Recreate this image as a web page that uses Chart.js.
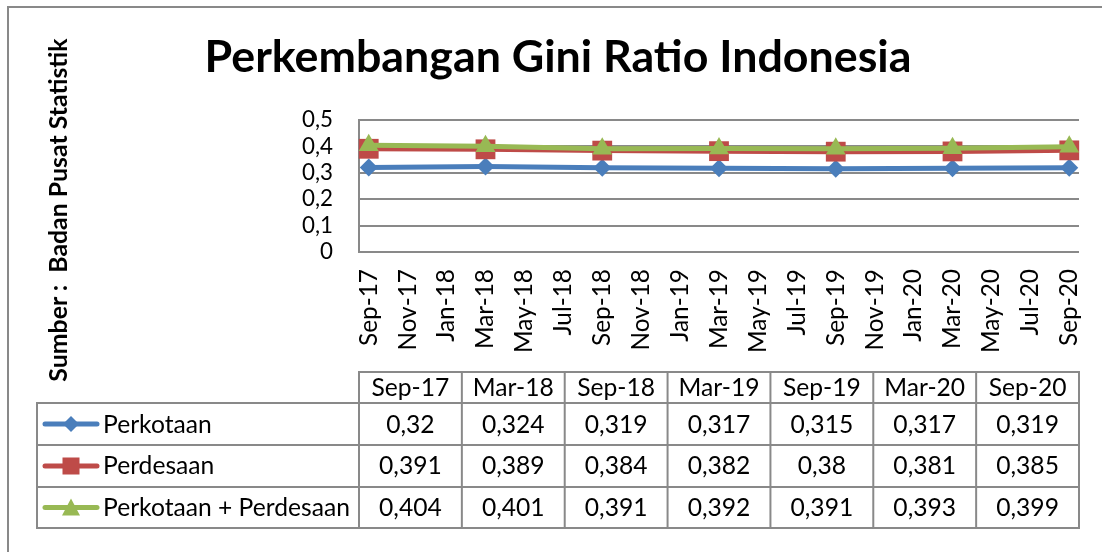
<!DOCTYPE html>
<html><head><meta charset="utf-8">
<script src="https://cdn.jsdelivr.net/npm/chart.js@4.4.1/dist/chart.umd.min.js"></script>
<style>
html,body{margin:0;padding:0;background:#fff;}
#wrap{position:relative;width:1102px;height:552px;overflow:hidden;background:#fff;}
#c{position:absolute;left:0;top:0;}
#ov{position:absolute;left:0;top:0;pointer-events:none;}
#ov text{font-family:Lato,'Liberation Sans',sans-serif;fill:#000;white-space:pre;}
</style></head><body>
<div id="wrap">
<canvas id="c" width="1102" height="552"></canvas>
<svg id="ov" width="1102" height="552" xmlns="http://www.w3.org/2000/svg"></svg>
</div>
<script>
// ---------- DATA ----------
const titleText = 'Perkembangan Gini Ratio Indonesia';
const sourceText = 'Sumber :  Badan Pusat Statistik';
const tickLabels = ['Sep-17','Nov-17','Jan-18','Mar-18','May-18','Jul-18','Sep-18','Nov-18','Jan-19','Mar-19','May-19','Jul-19','Sep-19','Nov-19','Jan-20','Mar-20','May-20','Jul-20','Sep-20'];
const yTicks = [0, 0.1, 0.2, 0.3, 0.4, 0.5];
const categories = ['Sep-17','Mar-18','Sep-18','Mar-19','Sep-19','Mar-20','Sep-20'];
const seriesNames = ['Perkotaan','Perdesaan','Perkotaan + Perdesaan'];
const perkotaan = [0.32, 0.324, 0.319, 0.317, 0.315, 0.317, 0.319];
const perdesaan = [0.391, 0.389, 0.384, 0.382, 0.38, 0.381, 0.385];
const gabungan  = [0.404, 0.401, 0.391, 0.392, 0.391, 0.393, 0.399];

// ---------- HELPERS ----------
const MONTHS = ['Jan','Feb','Mar','Apr','May','Jun','Jul','Aug','Sep','Oct','Nov','Dec'];
function monthIndex(lbl){ const p = lbl.split('-'); return (+p[1])*12 + MONTHS.indexOf(p[0]); }
const base = monthIndex(tickLabels[0]);
const tickPos = tickLabels.map(l => monthIndex(l) - base);
const catPos = categories.map(l => monthIndex(l) - base);
const fmt = v => String(v).replace('.', ',');

const FAMILY = 'Lato';
const mctx = document.createElement('canvas').getContext('2d');
function fitSize(text, weight, target){
  mctx.font = weight + ' 100px ' + FAMILY;
  return 100 * target / mctx.measureText(text).width;
}
const titleSize = fitSize(titleText, 'bold', 707);
const sourceSize = fitSize(sourceText, 'bold', 344);
const tableSize = fitSize('Perkotaan + Perdesaan', 'normal', 247);
const xTickSize = fitSize('Sep-17', 'normal', 77);
const yTickSize = fitSize('0,5', 'normal', 31);

const COLORS = ['#4A7EBB', '#BE4B48', '#98B954'];
const STYLES = ['rectRot', 'rect', 'triangle'];
const RADII = [9, 14, 11.5];
const values = [perkotaan, perdesaan, gabungan];

Chart.defaults.font.family = FAMILY;
Chart.defaults.color = '#000';

const GRID = '#898989';
const chart = new Chart(document.getElementById('c'), {
  type: 'line',
  data: {
    datasets: seriesNames.map((name, i) => ({
      label: name,
      data: catPos.map((x, j) => ({x: x, y: values[i][j]})),
      borderColor: COLORS[i],
      backgroundColor: COLORS[i],
      pointBackgroundColor: COLORS[i],
      pointBorderColor: COLORS[i],
      pointBorderWidth: 0,
      borderWidth: 5,
      pointStyle: STYLES[i],
      pointRadius: RADII[i],
      pointHoverRadius: RADII[i],
      tension: 0,
      clip: false,
      order: 3 - i
    }))
  },
  options: {
    responsive: false,
    animation: false,
    devicePixelRatio: 1,
    events: [],
    layout: { padding: { top: 120, right: 23, left: 0, bottom: 200 } },
    plugins: { legend: { display: false }, title: { display: false }, tooltip: { enabled: false } },
    scales: {
      x: {
        type: 'linear',
        min: tickPos[0] - 0.5,
        max: tickPos[tickPos.length - 1] + 0.5,
        afterBuildTicks: s => { s.ticks = tickPos.map(v => ({value: v})); },
        afterFit: s => { s.height = 100; s.paddingLeft = 0; s.paddingRight = 0; },
        grid: { display: false, drawTicks: false },
        border: { display: false },
        ticks: {
          autoSkip: false, minRotation: 90, maxRotation: 90, padding: 17,
          font: { size: xTickSize },
          callback: v => tickLabels[tickPos.indexOf(v)]
        }
      },
      y: {
        min: 0, max: 0.5,
        afterBuildTicks: s => { s.ticks = yTicks.map(v => ({value: v})); },
        afterFit: s => { s.width = 359; s.paddingTop = 0; s.paddingBottom = 0; },
        grid: { color: GRID, lineWidth: 2, drawTicks: false },
        border: { display: true, color: GRID, width: 2 },
        ticks: { autoSkip: false, padding: 26, font: { size: yTickSize }, callback: v => fmt(v) }
      }
    }
  }
});

// ---------- OVERLAY (title, source, data table) ----------
const svg = document.getElementById('ov');
const NS = 'http://www.w3.org/2000/svg';
function el(tag, attrs, text){
  const e = document.createElementNS(NS, tag);
  for (const k in attrs) e.setAttribute(k, attrs[k]);
  if (text != null) e.textContent = text;
  svg.appendChild(e); return e;
}
// frame
el('rect', {x: 8, y: 7, width: 2000, height: 2000, fill: 'none', stroke: '#898989', 'stroke-width': 2});
// title
el('text', {x: 558, y: 72, 'text-anchor': 'middle', 'font-weight': 'bold', 'font-size': titleSize}, titleText);
// source
el('text', {transform: 'translate(67,210) rotate(-90)', 'text-anchor': 'middle', 'font-weight': 'bold', 'font-size': sourceSize}, sourceText);

const ca = chart.chartArea;
const nCols = categories.length;
const colW = (ca.right - ca.left) / nCols;
const colX = []; for (let i = 0; i <= nCols; i++) colX.push(ca.left + i * colW);
const legendLeft = 37;
const rowY = [372, 403, 445, 487, 528];
const L = {stroke: GRID, 'stroke-width': 2, 'stroke-linecap': 'square'};
function line(x1, y1, x2, y2){ el('line', Object.assign({x1, y1, x2, y2}, L)); }
line(colX[0], rowY[0], colX[nCols], rowY[0]);
for (let r = 1; r < rowY.length; r++) line(legendLeft, rowY[r], colX[nCols], rowY[r]);
line(legendLeft, rowY[1], legendLeft, rowY[4]);
for (let i = 0; i <= nCols; i++) line(colX[i], rowY[0], colX[i], rowY[4]);

const fsT = tableSize;
categories.forEach((c, i) => {
  el('text', {x: (colX[i] + colX[i+1]) / 2, y: 396, 'text-anchor': 'middle', 'font-size': fsT}, c);
});
const baselines = [432.7, 474.3, 515.7];
values.forEach((arr, r) => {
  arr.forEach((v, i) => {
    el('text', {x: (colX[i] + colX[i+1]) / 2, y: baselines[r], 'text-anchor': 'middle', 'font-size': fsT}, fmt(v));
  });
  // legend key
  const cy = (rowY[r+1] + rowY[r+2]) / 2;
  el('line', {x1: 45, y1: cy, x2: 97, y2: cy, stroke: COLORS[r], 'stroke-width': 5, 'stroke-linecap': 'round'});
  const mx = 71;
  if (r === 0) el('polygon', {points: `${mx-8},${cy} ${mx},${cy-8} ${mx+8},${cy} ${mx},${cy+8}`, fill: COLORS[r]});
  if (r === 1) el('rect', {x: mx-8.5, y: cy-8.5, width: 17, height: 17, fill: COLORS[r]});
  if (r === 2) el('polygon', {points: `${mx},${cy-9} ${mx+9},${cy+8} ${mx-9},${cy+8}`, fill: COLORS[r]});
  el('text', {x: 103, y: baselines[r], 'font-size': fsT}, seriesNames[r]);
});
</script>
</body></html>
